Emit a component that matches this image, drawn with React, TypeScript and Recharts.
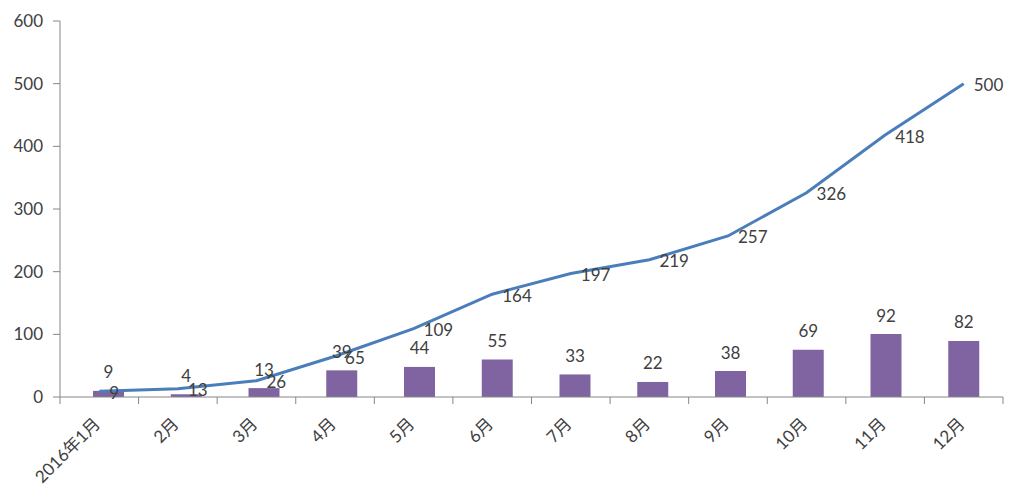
import { Bar, ComposedChart, LabelList, Line, XAxis, YAxis } from "recharts"

const months = ["2016年1月", "2月", "3月", "4月", "5月", "6月", "7月", "8月", "9月", "10月", "11月", "12月"]
const monthly = [9, 4, 13, 39, 44, 55, 33, 22, 38, 69, 92, 82]
const cumulative = [9, 13, 26, 65, 109, 164, 197, 219, 257, 326, 418, 500]
const yTicks = [0, 100, 200, 300, 400, 500, 600]

const data = months.map((m, i) => ({ month: m, monthly: monthly[i], total: cumulative[i] }))

const FONT = "Lato, 'Noto Sans CJK SC', sans-serif"
const AXIS = "#868686"
const TEXT = "#404040"

function MonthTick(props: any) {
  const { x, y, payload, index } = props
  const half = payload?.offset || 39.3
  const tx = x + 2
  const ty = y + 28
  return (
    <g>
      <line x1={x - half} x2={x - half} y1={y} y2={y + 7} stroke={AXIS} />
      {index === months.length - 1 && (
        <line x1={x + half} x2={x + half} y1={y} y2={y + 7} stroke={AXIS} />
      )}
      <text
        x={tx}
        y={ty}
        textAnchor="end"
        transform={`rotate(-45, ${tx}, ${ty})`}
        fontSize={17}
        fontFamily={FONT}
        fill={TEXT}
      >
        {payload.value}
      </text>
    </g>
  )
}

function BarLabel(props: any) {
  const { x, y, width, value } = props
  return (
    <text
      x={x + width / 2}
      y={y - 19}
      textAnchor="middle"
      dominantBaseline="central"
      fontSize={17}
      fontFamily={FONT}
      fill={TEXT}
    >
      {value}
    </text>
  )
}

function LineLabel(props: any) {
  const { x, y, value } = props
  return (
    <text
      x={x + 10}
      y={y + 1}
      textAnchor="start"
      dominantBaseline="central"
      fontSize={17}
      fontFamily={FONT}
      fill={TEXT}
    >
      {value}
    </text>
  )
}

export default function App() {
  return (
    <div style={{ position: "absolute", left: 0, top: 0, width: 1024, height: 501, background: "#fff" }}>
      <ComposedChart
        width={1024}
        height={501}
        data={data}
        margin={{ top: 21, right: 21, bottom: 0, left: 0 }}
      >
        <XAxis
          dataKey="month"
          height={104}
          interval={0}
          tickLine={false}
          tickSize={0}
          tickMargin={0}
          axisLine={{ stroke: AXIS }}
          tick={<MonthTick />}
        />
        <XAxis xAxisId="b" dataKey="month" hide padding={{ left: 10, right: 0 }} />
        <YAxis
          yAxisId="left"
          domain={[0, 600]}
          ticks={yTicks}
          width={60}
          tickSize={7}
          tickMargin={10}
          axisLine={{ stroke: AXIS }}
          tickLine={{ stroke: AXIS }}
          tick={{ fill: TEXT, fontSize: 17, fontFamily: FONT }}
        />
        <YAxis yAxisId="right" orientation="right" hide domain={[0, 550]} />
        <Bar
          dataKey="monthly"
          xAxisId="b"
          yAxisId="right"
          fill="#8064A2"
          barSize={31}
          isAnimationActive={false}
        >
          <LabelList dataKey="monthly" content={<BarLabel />} />
        </Bar>
        <Line
          dataKey="total"
          yAxisId="left"
          type="linear"
          stroke="#4A7EBB"
          strokeWidth={3}
          dot={false}
          isAnimationActive={false}
        >
          <LabelList dataKey="total" content={<LineLabel />} />
        </Line>
      </ComposedChart>
    </div>
  )
}
